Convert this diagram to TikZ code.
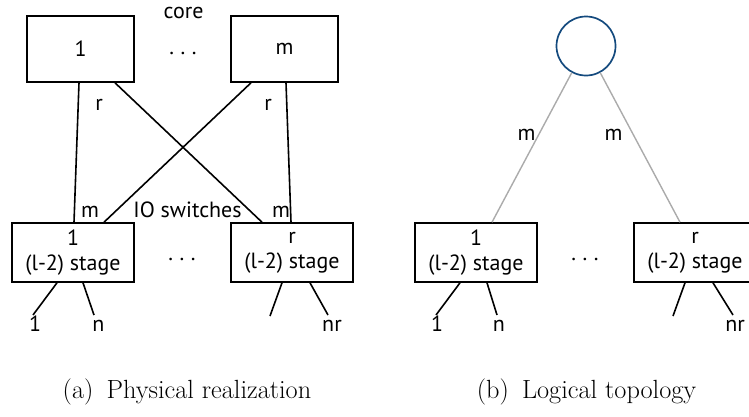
\documentclass[tikz,border=0pt]{standalone}
\usepackage{fontspec}
\setsansfont{PT Sans}
\definecolor{rootblue}{HTML}{144A7E}
\definecolor{linkgray}{HTML}{ABABAB}
\begin{document}
\begin{tikzpicture}[x=1pt,y=-1pt,
  lbl/.style={font=\sffamily\fontsize{22}{25}\selectfont, inner sep=0pt},
  corebox/.style={draw, line width=1.6pt, minimum width=107pt, minimum height=66pt,
                  inner sep=0pt, lbl},
  stagebox/.style={draw, line width=1.6pt, minimum width=122pt, minimum height=59pt,
                   inner sep=0pt, align=center, lbl},
  link/.style={line width=1.6pt},
  glink/.style={line width=1.4pt, draw=linkgray},
  caption/.style={font=\fontsize{26.3}{29}\selectfont, inner sep=0pt, anchor=base}]
\useasboundingbox (0,0) rectangle (749,416);

% ---------- (a) physical realization ----------
\node[corebox] (c1) at (80.5,49) {1};
\node[corebox] (cm) at (284.5,49) {m};
\node[lbl, anchor=base] (corelbl) at (183.5,18) {core};
\node[lbl, anchor=base] (coredots) at (183,54) {.\hspace{0.3em}.\hspace{0.3em}.};

\node[stagebox] (s1) at (73,252.5) {1\\(l-2) stage};
\node[stagebox] (sr) at (292,252.5) {r\\(l-2) stage};
\node[lbl, anchor=base] (stagedots) at (182,260) {.\hspace{0.3em}.\hspace{0.3em}.};

\draw[link] ([xshift=-1.5pt]c1.south) -- ([xshift=1pt]s1.north);
\draw[link] ([xshift=34.5pt]c1.south) -- ([xshift=-30pt]sr.north);
\draw[link] ([xshift=-33.5pt]cm.south) -- ([xshift=31pt]s1.north);
\draw[link] ([xshift=1.5pt]cm.south) -- ([xshift=-1pt]sr.north);

\node[lbl, anchor=base] (r1) at (99,110) {r};
\node[lbl, anchor=base] (r2) at (268,110) {r};
\node[lbl, anchor=base] (m1) at (90,217) {m};
\node[lbl, anchor=base] (m2) at (281,217) {m};
\node[lbl, anchor=base] (io) at (187.5,217) {IO switches};

% leaf links under the stages
\coordinate (a1) at (33,315);
\coordinate (a2) at (94,315);
\coordinate (a3) at (270,316);
\coordinate (a4) at (328,315);
\draw[link] ([xshift=-16pt]s1.south) -- (a1);
\draw[link] ([xshift=10pt]s1.south) -- (a2);
\draw[link] ([xshift=-10pt]sr.south) -- (a3);
\draw[link] ([xshift=18pt]sr.south) -- (a4);
\node[lbl, anchor=base] (l1) at (35,331) {1};
\node[lbl, anchor=base] (l2) at (98.5,331) {n};
\node[lbl, anchor=base] (l3) at (332,331) {nr};

\node[caption] (capa) at (187,398) {(a)\hspace{0.5em}Physical realization};

% ---------- (b) logical topology ----------
\node[circle, draw=rootblue, line width=1.7pt, minimum size=59pt, inner sep=0pt] (root) at (586,46) {};

\node[stagebox] (t1) at (476,252.5) {1\\(l-2) stage};
\node[stagebox] (tr) at (695,252.5) {r\\(l-2) stage};
\node[lbl, anchor=base] (tdots) at (585,260) {.\hspace{0.3em}.\hspace{0.3em}.};

\draw[glink] (root) -- ([xshift=16pt]t1.north);
\draw[glink] (root) -- ([xshift=-15pt]tr.north);
\node[lbl, anchor=base] (tm1) at (526.5,140) {m};
\node[lbl, anchor=base] (tm2) at (613.5,140) {m};

\coordinate (b1) at (436,315);
\coordinate (b2) at (497,315);
\coordinate (b3) at (673,316);
\coordinate (b4) at (733,315);
\draw[link] ([xshift=-16pt]t1.south) -- (b1);
\draw[link] ([xshift=11pt]t1.south) -- (b2);
\draw[link] ([xshift=-10pt]tr.south) -- (b3);
\draw[link] ([xshift=18pt]tr.south) -- (b4);
\node[lbl, anchor=base] (k1) at (437,331) {1};
\node[lbl, anchor=base] (k2) at (499,331) {n};
\node[lbl, anchor=base] (k3) at (735,331) {nr};

\node[caption] (capb) at (586.5,398) {(b)\hspace{0.5em}Logical topology};
\end{tikzpicture}
\end{document}
